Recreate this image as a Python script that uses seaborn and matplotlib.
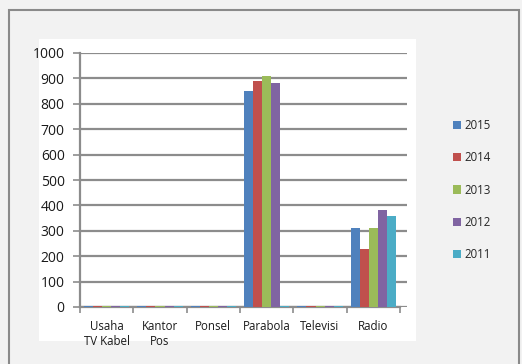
import matplotlib
matplotlib.use("Agg")
import matplotlib.pyplot as plt
from matplotlib.patches import Rectangle
import numpy as np
import pandas as pd
import seaborn as sns

# Jumlah menurut jenis media, per tahun
categories = ["Usaha\nTV Kabel", "Kantor\nPos", "Ponsel", "Parabola", "Televisi", "Radio"]
years = ["2015", "2014", "2013", "2012", "2011"]
v2015 = [4, 3, 3, 850, 3, 310]
v2014 = [4, 3, 3, 890, 3, 230]
v2013 = [4, 3, 3, 910, 3, 310]
v2012 = [4, 3, 3, 880, 3, 380]
v2011 = [4, 3, 3, 4, 3, 360]
yticks = [0, 100, 200, 300, 400, 500, 600, 700, 800, 900, 1000]

series = [v2015, v2014, v2013, v2012, v2011]
df = pd.DataFrame({
    "kategori": [c for _ in years for c in categories],
    "tahun": [y for y in years for _ in categories],
    "nilai": [v for s in series for v in s],
})

palette = ["#4f81bd", "#c0504d", "#9bbb59", "#8064a2", "#4bacc6"]

sns.set_theme(style="white")
plt.rcParams["font.family"] = ["Open Sans", "DejaVu Sans"]

fig = plt.figure(figsize=(5.22, 3.64), dpi=100, facecolor="#f2f2f2")
W, H = 522, 364

# outer frame and white chart area
fig.patches.append(Rectangle((9 / W, 1 - 370 / H), 510 / W, 360 / H,
                             transform=fig.transFigure, facecolor="#f2f2f2",
                             edgecolor="#8a8a8a", linewidth=1.5, zorder=-2))
fig.patches.append(Rectangle((39 / W, 1 - 341 / H), 377 / W, 302 / H,
                             transform=fig.transFigure, facecolor="white",
                             edgecolor="none", zorder=-1))

ax = fig.add_axes([80 / W, 1 - 307 / H, 327 / W, 254 / H])
ax.set_facecolor("none")
ax.set_zorder(2)

sns.barplot(data=df, x="kategori", y="nilai", hue="tahun", hue_order=years,
            palette=palette, width=0.85, saturation=1, ax=ax,
            edgecolor="none", linewidth=0, zorder=3)

ax.set_ylim(0, 1000)
ax.set_xlim(-0.5, 5.63)
ax.set_yticks(yticks)
ax.set_yticklabels([str(t) for t in yticks], fontsize=10, color="#1a1a1a")
ax.set_xticks(range(len(categories)))
ax.set_xticklabels(categories, fontsize=8.3, color="#1a1a1a",
                   ha="center", multialignment="center", linespacing=1.25)
ax.set_xlabel("")
ax.set_ylabel("")
ax.tick_params(axis="x", length=0, pad=9)
ax.tick_params(axis="y", length=5, width=1.2, color="#8c8c8c", direction="out",
               left=True, pad=6)
ax.set_xticks(np.arange(-0.5, 6.0, 1.0), minor=True)
ax.tick_params(axis="x", which="minor", length=4, width=1.2, color="#8c8c8c",
               direction="out", bottom=True)

ax.yaxis.grid(True, color="#8c8c8c", linewidth=1.6, zorder=0)
ax.set_axisbelow(True)
for side in ["top", "right"]:
    ax.spines[side].set_visible(False)
for side in ["left", "bottom"]:
    ax.spines[side].set_color("#8c8c8c")
    ax.spines[side].set_linewidth(1.6)
ax.spines["bottom"].set_bounds(-0.5, 5.5)

handles, labels = ax.get_legend_handles_labels()
ax.legend(handles, labels, loc="center left", bbox_to_anchor=(448 / W, 1 - 190 / H),
          bbox_transform=fig.transFigure, frameon=False, fontsize=8.3,
          handlelength=0.7, handleheight=0.7, handletextpad=0.3,
          labelspacing=1.68, borderaxespad=0)

fig.savefig("out.png", dpi=100, facecolor=fig.get_facecolor())
